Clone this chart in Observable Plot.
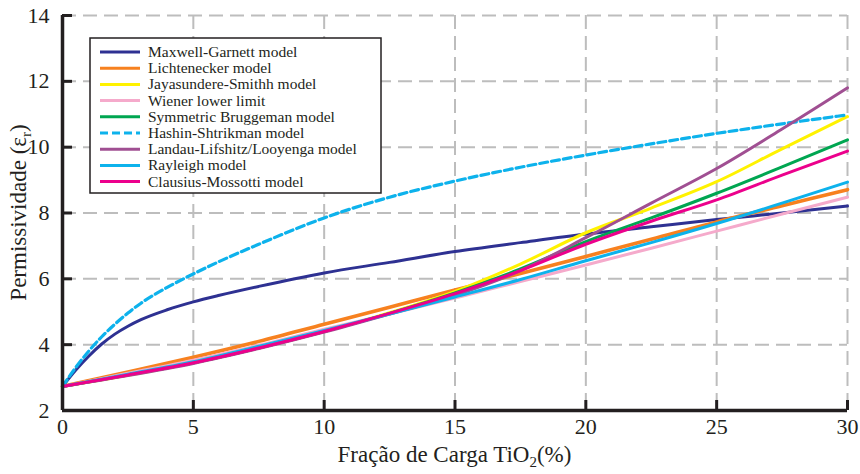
<!DOCTYPE html>
<html>
<head>
<meta charset="utf-8">
<script src="https://cdn.jsdelivr.net/npm/d3@7"></script>
<script src="https://cdn.jsdelivr.net/npm/@observablehq/plot@0.6"></script>
<style>
  html, body { margin: 0; padding: 0; background: #fff; }
  #chart { width: 860px; height: 474px; }
  #chart svg, #chart svg text, #chart svg tspan {
    font-family: "Liberation Serif", "DejaVu Serif", "Noto Serif", "Times New Roman", Times, serif !important;
  }
</style>
</head>
<body>
<div id="chart"></div>
<script>
// ---- data ----
const xFine = [0, 0.5, 1, 1.5, 2, 2.5, 3, 4, 5, 6, 7.5, 10, 12.5, 15, 17.5, 20, 22.5, 25, 27.5, 30];
const xCoarse = [0, 2.5, 5, 7.5, 10, 12.5, 15, 17.5, 20, 22.5, 25, 27.5, 30];

const maxwellGarnett = [2.73, 3.22, 3.65, 4.02, 4.32, 4.56, 4.76, 5.06, 5.3, 5.5, 5.77, 6.18, 6.5, 6.83, 7.1, 7.36, 7.58, 7.8, 8.0, 8.21];
const hashinShtrikman = [2.73, 3.3, 3.8, 4.24, 4.62, 4.96, 5.26, 5.74, 6.15, 6.53, 7.05, 7.85, 8.48, 8.97, 9.39, 9.76, 10.1, 10.42, 10.71, 10.98];

const lichtenecker = [2.73, 3.17, 3.62, 4.1, 4.62, 5.14, 5.66, 6.16, 6.68, 7.2, 7.73, 8.22, 8.71];
const jayasundere  = [2.73, 3.07, 3.45, 3.9, 4.4, 4.97, 5.62, 6.45, 7.4, 8.15, 8.95, 9.95, 10.93];
const wiener       = [2.73, 3.13, 3.53, 3.98, 4.47, 4.93, 5.42, 5.92, 6.42, 6.93, 7.45, 7.97, 8.48];
const bruggeman    = [2.73, 3.08, 3.45, 3.9, 4.4, 4.95, 5.57, 6.3, 7.13, 7.85, 8.6, 9.4, 10.22];
const landau       = [2.73, 3.06, 3.43, 3.88, 4.38, 4.93, 5.5, 6.25, 7.25, 8.3, 9.35, 10.55, 11.8];
const rayleigh     = [2.73, 3.1, 3.48, 3.95, 4.43, 4.93, 5.45, 5.98, 6.55, 7.1, 7.68, 8.3, 8.94];
const clausius     = [2.73, 3.08, 3.45, 3.9, 4.4, 4.95, 5.55, 6.25, 7.05, 7.75, 8.4, 9.15, 9.88];

const seriesNames = [
  "Maxwell-Garnett model", "Lichtenecker model", "Jayasundere-Smithh model",
  "Wiener lower limit", "Symmetric Bruggeman model", "Hashin-Shtrikman model",
  "Landau-Lifshitz/Looyenga model", "Rayleigh model", "Clausius-Mossotti model"
];
const seriesColors = ["#2e3192", "#f7811f", "#fff200", "#f5aacb", "#00a651", "#0db2ec", "#a04f92", "#0db2ec", "#ec008c"];
const seriesDash = [null, null, null, null, null, "8,4", null, null, null];
const seriesWidth = [3, 3.6, 3, 3, 3, 3.2, 3, 3, 3];
const seriesX = [xFine, xCoarse, xCoarse, xCoarse, xCoarse, xFine, xCoarse, xCoarse, xCoarse];
const seriesY = [maxwellGarnett, lichtenecker, jayasundere, wiener, bruggeman, hashinShtrikman, landau, rayleigh, clausius];

const xTicks = [0, 5, 10, 15, 20, 25, 30];
const yTicks = [2, 4, 6, 8, 10, 12, 14];

// ---- build ----
const W = 860, H = 474;
const mL = 62, mR = 13, mT = 15, mB = 64;
const FONT = "'Liberation Serif', 'DejaVu Serif', 'Noto Serif', 'Times New Roman', Times, serif";
const gridStyle = {stroke: "#bdbdbd", strokeOpacity: 1, strokeWidth: 2, strokeDasharray: "14,7"};

const lineMarks = seriesNames.map((name, i) => Plot.line(
  seriesX[i].map((x, j) => ({x, y: seriesY[i][j]})),
  {x: "x", y: "y", stroke: seriesColors[i], strokeWidth: seriesWidth[i],
   strokeDasharray: seriesDash[i], curve: "monotone-x"}
));

const plot = Plot.plot({
  width: W, height: H,
  marginLeft: mL, marginRight: mR, marginTop: mT, marginBottom: mB,
  style: {fontFamily: FONT, background: "#fff"},
  x: {domain: [0, 30], ticks: xTicks, label: null},
  y: {domain: [2, 14], ticks: yTicks, label: null},
  marks: [
    Plot.gridX(xTicks.filter(d => d > 0), gridStyle),
    Plot.gridY(yTicks.filter(d => d > 2), gridStyle),
    ...lineMarks,
    Plot.axisX(xTicks, {tickSize: 0, tickPadding: 8, fontSize: 22, fill: "#231f20", label: null}),
    Plot.axisY(yTicks, {tickSize: 0, tickPadding: 13, fontSize: 22, fill: "#231f20", label: null}),
    Plot.tickX(xTicks, {x: d => d, stroke: "#231f20", strokeWidth: 3, insetTop: H - mT - mB - 10}),
    Plot.tickY(yTicks, {y: d => d, stroke: "#231f20", strokeWidth: 3, insetRight: W - mL - mR - 10}),
    Plot.ruleX([0], {stroke: "#231f20", strokeWidth: 3.5}),
    Plot.ruleY([2], {stroke: "#231f20", strokeWidth: 3.5})
  ]
});

document.getElementById("chart").appendChild(plot);
const svg = d3.select(plot);
svg.selectAll("text").attr("font-family", FONT).style("font-family", FONT);

// Axis titles with subscripts
const xt = svg.append("text")
  .attr("x", mL + (W - mL - mR) / 2).attr("y", 462)
  .attr("text-anchor", "middle").attr("font-size", 23).attr("fill", "#231f20")
  .style("font-family", FONT);
xt.append("tspan").text("Fração de Carga TiO");
xt.append("tspan").attr("font-size", 15).attr("dy", 5).text("2");
xt.append("tspan").attr("dy", -5).text("(%)");

const yt = svg.append("text")
  .attr("transform", `translate(26, ${mT + (H - mT - mB) / 2}) rotate(-90)`)
  .attr("text-anchor", "middle").attr("font-size", 23).attr("fill", "#231f20")
  .style("font-family", FONT);
yt.append("tspan").text("Permissividade (ε");
yt.append("tspan").attr("font-size", 15).attr("dy", 5).text("r");
yt.append("tspan").attr("dy", -5).text(")");

// Legend
const lg = svg.append("g").attr("transform", "translate(90,38)");
lg.append("rect").attr("width", 291).attr("height", 155)
  .attr("fill", "#fff").attr("stroke", "#231f20").attr("stroke-width", 1.5);
seriesNames.forEach((name, i) => {
  const yy = 14 + i * 16.2;
  lg.append("line").attr("x1", 10).attr("x2", 50).attr("y1", yy).attr("y2", yy)
    .attr("stroke", seriesColors[i]).attr("stroke-width", 3)
    .attr("stroke-dasharray", seriesDash[i]);
  lg.append("text").attr("x", 58).attr("y", yy + 5)
    .attr("text-anchor", "start")
    .attr("font-size", 15.5).attr("fill", "#231f20")
    .style("font-family", FONT).text(name);
});
</script>
</body>
</html>
